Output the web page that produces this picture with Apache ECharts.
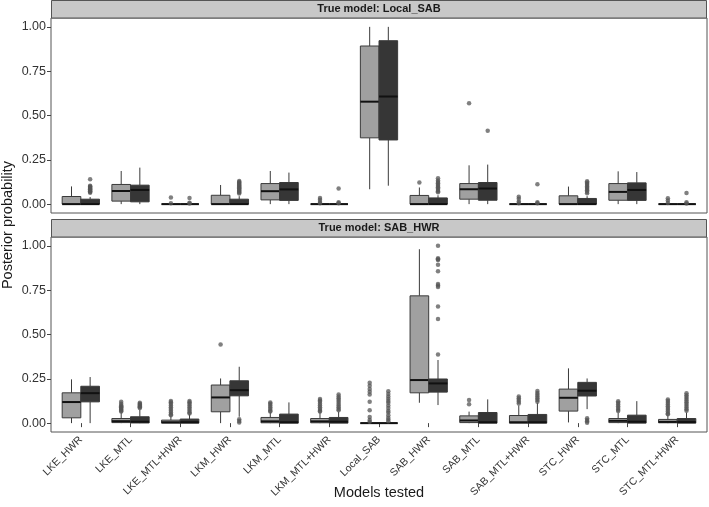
<!DOCTYPE html>
<html><head><meta charset="utf-8">
<script src="https://cdn.jsdelivr.net/npm/echarts@6/dist/echarts.min.js"></script>
<style>html,body{margin:0;padding:0;background:#fff}#c{width:709px;height:507px}</style>
</head><body><div id="c"></div>
<script>
// ---------- DATA ----------
const categories = ['LKE_HWR','LKE_MTL','LKE_MTL+HWR','LKM_HWR','LKM_MTL','LKM_MTL+HWR','Local_SAB','SAB_HWR','SAB_MTL','SAB_MTL+HWR','STC_HWR','STC_MTL','STC_MTL+HWR'];
const panelTitles = ['True model: Local_SAB', 'True model: SAB_HWR'];
const yTicks = [0, 0.25, 0.5, 0.75, 1];

// [low whisker, q1, median, q3, high whisker]
const localLightBox = [
  [0,0,0,0.043,0.1],[0,0.017,0.074,0.111,0.187],[0,0,0,0,0],[0,0,0,0.05,0.108],
  [0,0.024,0.073,0.116,0.187],[0,0,0,0,0],[0.084,0.374,0.578,0.892,1.0],[0,0,0,0.049,0.094],
  [0,0.028,0.084,0.116,0.219],[0,0,0,0,0],[0,0,0,0.047,0.099],[0,0.022,0.069,0.116,0.185],[0,0,0,0,0]
];
const localDarkBox = [
  [0,0,0,0.028,0.04],[0,0.013,0.08,0.107,0.206],[0,0,0,0,0],[0,0,0,0.028,0.045],
  [0,0.021,0.083,0.122,0.178],[0,0,0,0,0],[0.104,0.362,0.607,0.922,1.0],[0,0,0,0.035,0.05],
  [0,0.022,0.088,0.122,0.223],[0,0,0,0,0],[0,0,0,0.032,0.045],[0,0.021,0.08,0.12,0.181],[0,0,0,0,0]
];
const localLightOut = [
  [],[],[0.037,0.005],[],[],[0.035,0.025,0.012,0.005],[],[0.122],[0.569],[0.042,0.03,0.015,0.005],[],[],[0.033,0.02,0.006]
];
const localDarkOut = [
  [0.14,0.104,0.1,0.096,0.092,0.088,0.084,0.08,0.076,0.072,0.068,0.064],[],[0.034,0.008,0.004],
  [0.131,0.125,0.12,0.115,0.11,0.105,0.1,0.095,0.09,0.085,0.08,0.075,0.07,0.065,0.06],[],[0.088,0.01,0.005],[],
  [0.146,0.133,0.125,0.118,0.11,0.103,0.095,0.088,0.08,0.072,0.067],[0.414],[0.112,0.01,0.005],
  [0.129,0.122,0.115,0.108,0.1,0.093,0.085,0.078,0.07,0.062],[],[0.063,0.01,0.004]
];
const sabLightBox = [
  [0,0.03,0.119,0.171,0.247],[0,0.003,0.011,0.026,0.06],[0,0,0.005,0.017,0.04],[0,0.064,0.145,0.215,0.252],
  [0,0.002,0.01,0.032,0.06],[0,0.002,0.01,0.026,0.06],[0,0,0,0,0],[0.115,0.171,0.243,0.718,0.981],
  [0,0.003,0.015,0.041,0.065],[0,0,0.005,0.043,0.1],[0.004,0.068,0.143,0.192,0.309],[0,0.003,0.013,0.026,0.06],[0,0.002,0.007,0.021,0.045]
];
const sabDarkBox = [
  [0,0.12,0.169,0.208,0.26],[0,0.001,0.008,0.036,0.075],[0,0,0.005,0.023,0.05],[0.036,0.154,0.186,0.239,0.318],
  [0,0,0.005,0.051,0.117],[0,0,0.008,0.032,0.065],[0,0,0,0,0.005],[0.102,0.175,0.224,0.249,0.356],
  [0,0,0.005,0.06,0.134],[0,0,0.005,0.049,0.115],[0.079,0.153,0.183,0.23,0.252],[0,0,0.008,0.045,0.124],[0,0,0.006,0.026,0.06]
];
const sabLightOut = [
  [],[0.12,0.11,0.1,0.095,0.09,0.085,0.08,0.075,0.07,0.065],
  [0.125,0.118,0.11,0.1,0.09,0.08,0.07,0.06,0.05,0.045],[0.444],
  [0.117,0.11,0.1,0.09,0.08,0.07,0.065],[0.136,0.128,0.12,0.11,0.1,0.09,0.08,0.07,0.065],
  [0.228,0.211,0.192,0.177,0.162,0.12,0.073,0.035,0.017,0.008],[],[0.13,0.106],
  [0.15,0.14,0.13,0.12,0.111],[],[0.124,0.115,0.105,0.095,0.085,0.075,0.068],
  [0.134,0.125,0.115,0.105,0.095,0.085,0.075,0.065,0.055,0.05]
];
const sabDarkOut = [
  [],[0.115,0.11,0.105,0.1,0.095,0.09,0.085],[0.125,0.118,0.11,0.1,0.09,0.08,0.07,0.06,0.055],
  [0.022,0.012,0.003],[],[0.162,0.15,0.14,0.13,0.12,0.11,0.1,0.09,0.08,0.072],
  [0.18,0.165,0.15,0.138,0.125,0.115,0.1,0.085,0.07,0.06,0.045,0.03,0.02,0.01],
  [1.0,0.93,0.925,0.92,0.893,0.857,0.785,0.776,0.768,0.658,0.588,0.387],[],
  [0.181,0.17,0.16,0.15,0.14,0.13,0.12],[0.028,0.018,0.01,0.002],[],
  [0.168,0.158,0.148,0.138,0.128,0.118,0.108,0.098,0.088,0.078,0.07]
];
</script>
<script>
const chart = echarts.init(document.getElementById('c'), null, {renderer:'canvas'});
const FONT = '"Liberation Sans", Arial, Helvetica, sans-serif';
const LIGHT = '#A0A0A0', DARK = '#363636', EDGE = '#3a3a3a';
const DODGE = 0.1875, BOXW = 0.375;
const PL = 51, PW = 656, PH = 195;
const tops = [18, 237];

function boxData(boxes, off){ return boxes.map((b,i)=>[i+1+off].concat(b)); }
function outData(outs, off){ const r=[]; outs.forEach((arr,i)=>arr.forEach(v=>r.push([i+1+off, v]))); return r; }

function renderBox(fill){
  return function(params, api){
    const x = api.value(0);
    const lo=api.coord([x,api.value(1)]), q1=api.coord([x,api.value(2)]), md=api.coord([x,api.value(3)]),
          q3=api.coord([x,api.value(4)]), hi=api.coord([x,api.value(5)]);
    const w = api.size([BOXW,0])[0], h = w/2;
    return {type:'group', children:[
      {type:'line', shape:{x1:lo[0],y1:lo[1],x2:q1[0],y2:q1[1]}, style:{stroke:EDGE,lineWidth:1}},
      {type:'line', shape:{x1:q3[0],y1:q3[1],x2:hi[0],y2:hi[1]}, style:{stroke:EDGE,lineWidth:1}},
      {type:'rect', shape:{x:q1[0]-h,y:q3[1],width:w,height:Math.max(q1[1]-q3[1],0)}, style:{fill:fill,stroke:EDGE,lineWidth:1}},
      {type:'line', shape:{x1:md[0]-h,y1:md[1],x2:md[0]+h,y2:md[1]}, style:{stroke:'#111',lineWidth:2}}
    ]};
  };
}

const grids = tops.map(t=>({left:PL, top:t, width:PW, height:PH, show:true, borderColor:'#555', borderWidth:1, backgroundColor:'#fff'}));
const xAxes = [0,1].map(g=>({
  type:'value', gridIndex:g, min:0.4, max:13.6, splitLine:{show:false}, axisLine:{show:false},
  axisTick:{show:g===1, customValues:categories.map((c,i)=>i+1), length:4, lineStyle:{color:'#444'}},
  axisLabel:{show:g===1, customValues:categories.map((c,i)=>i+1), formatter:v=>categories[Math.round(v)-1]||'',
    rotate:45, fontSize:10.5, color:'#333', fontFamily:FONT, margin:6}
}));
const yAxes = [0,1].map(g=>({
  type:'value', gridIndex:g, min:-0.05, max:1.05, splitLine:{show:false}, axisLine:{show:false},
  axisTick:{show:true, customValues:yTicks, length:4, lineStyle:{color:'#444'}},
  axisLabel:{customValues:yTicks, formatter:v=>v.toFixed(2), fontSize:12.5, color:'#333', fontFamily:FONT, margin:5}
}));

const sets = [
  [localLightBox, localDarkBox, localLightOut, localDarkOut],
  [sabLightBox, sabDarkBox, sabLightOut, sabDarkOut]
];
const series = [];
sets.forEach((s,g)=>{
  series.push({type:'custom', xAxisIndex:g, yAxisIndex:g, renderItem:renderBox(LIGHT), data:boxData(s[0],-DODGE), encode:{x:0,y:[1,2,3,4,5]}, z:2});
  series.push({type:'custom', xAxisIndex:g, yAxisIndex:g, renderItem:renderBox(DARK), data:boxData(s[1],DODGE), encode:{x:0,y:[1,2,3,4,5]}, z:2});
  series.push({type:'scatter', xAxisIndex:g, yAxisIndex:g, data:outData(s[2],-DODGE), symbolSize:4.5, itemStyle:{color:'#555',opacity:0.75}, z:3});
  series.push({type:'scatter', xAxisIndex:g, yAxisIndex:g, data:outData(s[3],DODGE), symbolSize:4.5, itemStyle:{color:'#555',opacity:0.75}, z:3});
});

const graphic = [];
tops.forEach((t,i)=>{
  graphic.push({type:'rect', shape:{x:PL+0.5, y:t-18+0.5, width:PW-1, height:17.5}, style:{fill:'#C8C8C8', stroke:'#555', lineWidth:1}, z:5});
  graphic.push({type:'text', x:PL+PW/2, y:t-9, style:{text:panelTitles[i], font:'bold 11px '+FONT, fill:'#1a1a1a', textAlign:'center', textVerticalAlign:'middle'}, z:6});
});
graphic.push({type:'text', x:8, y:225, rotation:Math.PI/2, style:{text:'Posterior probability', font:'14.5px '+FONT, fill:'#1a1a1a', textAlign:'center', textVerticalAlign:'middle'}});
graphic.push({type:'text', x:PL+PW/2, y:493, style:{text:'Models tested', font:'14.5px '+FONT, fill:'#1a1a1a', textAlign:'center', textVerticalAlign:'middle'}});

chart.setOption({animation:false, grid:grids, xAxis:xAxes, yAxis:yAxes, series:series, graphic:graphic});
</script>
</body></html>
